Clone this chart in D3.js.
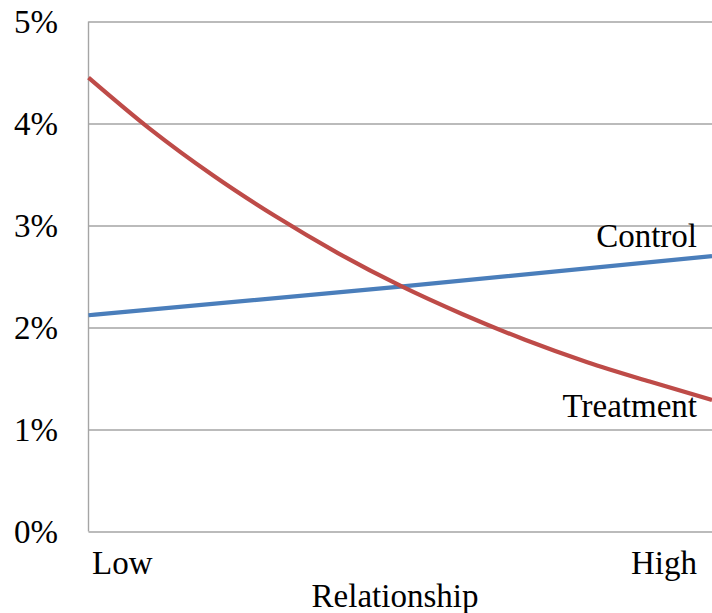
<!DOCTYPE html>
<html>
<head>
<meta charset="utf-8">
<script src="https://cdn.jsdelivr.net/npm/d3@7"></script>
<style>
  html, body { margin: 0; padding: 0; background: #fff; }
  svg { display: block; }
  text { font-family: "Liberation Serif", "DejaVu Serif", serif; fill: #000; }
</style>
</head>
<body>
<svg id="chart" width="712" height="613"></svg>
<script>
// Relationship position along the x axis (0 = Low, 10 = High)
const treatmentX = [0, 1, 2, 3, 4, 5, 6, 7, 8, 9, 10];
const treatmentY = [4.45, 3.94, 3.49, 3.09, 2.73, 2.41, 2.13, 1.88, 1.66, 1.47, 1.29];
const controlX = [0, 5, 10];
const controlY = [2.12, 2.40, 2.70];
const yTicks = [0, 1, 2, 3, 4, 5];
const xTickLabels = ["Low", "High"];
const seriesNames = ["Control", "Treatment"];
const xTitle = "Relationship";

const svg = d3.select("#chart");
const m = { left: 88.5, right: 712, top: 21.5, bottom: 531.5 };
const fontSize = "33px";

const x = d3.scaleLinear().domain([0, 10]).range([m.left, m.right]);
const y = d3.scaleLinear().domain([0, 5]).range([m.bottom, m.top]);

// horizontal gridlines and y axis labels
const yAxis = d3.axisLeft(y)
  .tickValues(yTicks)
  .tickSize(-(m.right - m.left))
  .tickFormat(d => d + "%");

const gy = svg.append("g")
  .attr("transform", `translate(${m.left},0)`)
  .call(yAxis);
gy.select(".domain").remove();
gy.selectAll(".tick line").attr("stroke", "#a5a5a5").attr("stroke-width", 1.4);
gy.selectAll(".tick text")
  .attr("x", 58 - m.left)
  .attr("dy", "0.34em")
  .attr("text-anchor", "end")
  .style("font-size", fontSize)
  .style("font-family", "'Liberation Serif', serif")
  .attr("fill", "#111");

// left axis line
svg.append("line")
  .attr("x1", m.left).attr("x2", m.left)
  .attr("y1", y(5)).attr("y2", y(0))
  .attr("stroke", "#a5a5a5").attr("stroke-width", 1.4);

// series lines
const line = d3.line()
  .x(d => x(d[0]))
  .y(d => y(d[1]))
  .curve(d3.curveMonotoneX);

svg.append("path")
  .datum(d3.zip(controlX, controlY))
  .attr("fill", "none")
  .attr("stroke", "#4a7ebb")
  .attr("stroke-width", 4.2)
  .attr("d", line);

svg.append("path")
  .datum(d3.zip(treatmentX, treatmentY))
  .attr("fill", "none")
  .attr("stroke", "#be4b48")
  .attr("stroke-width", 4.2)
  .attr("d", line);

// series labels near the right end
svg.append("text")
  .attr("x", 697).attr("y", 247)
  .attr("text-anchor", "end")
  .style("font-size", fontSize)
  .text(seriesNames[0]);

svg.append("text")
  .attr("x", 697).attr("y", 417)
  .attr("text-anchor", "end")
  .style("font-size", fontSize)
  .text(seriesNames[1]);

// x category labels
svg.append("text")
  .attr("x", x(0) + 3.5).attr("y", 574)
  .attr("text-anchor", "start")
  .style("font-size", fontSize)
  .text(xTickLabels[0]);

svg.append("text")
  .attr("x", x(10) - 15).attr("y", 574)
  .attr("text-anchor", "end")
  .style("font-size", fontSize)
  .text(xTickLabels[1]);

// x axis title
svg.append("text")
  .attr("x", 395).attr("y", 607)
  .attr("text-anchor", "middle")
  .style("font-size", fontSize)
  .text(xTitle);
</script>
</body>
</html>
